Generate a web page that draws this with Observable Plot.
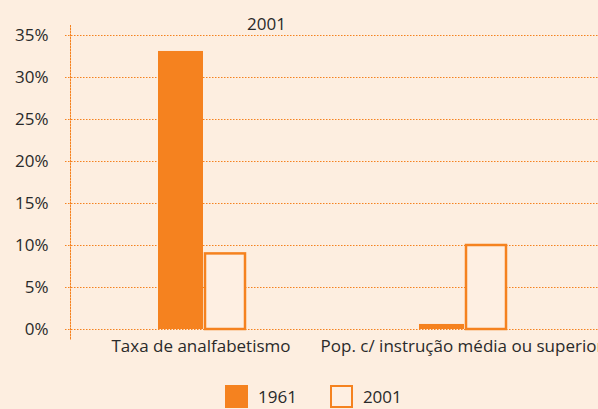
<!DOCTYPE html>
<html>
<head>
<meta charset="utf-8">
<script src="https://cdn.jsdelivr.net/npm/d3@7"></script>
<script src="https://cdn.jsdelivr.net/npm/@observablehq/plot@0.6"></script>
<style>
  html, body { margin: 0; padding: 0; background: #fdeee0; }
  body { width: 598px; height: 409px; overflow: hidden; font-family: "Open Sans", sans-serif; color: #2a2a2a; position: relative; }
  #title { position: absolute; top: 14px; left: 247px; font-size: 17px; line-height: 20px; }
  #chart { padding-top: 24px; }
  #legend { display: flex; align-items: center; margin-top: 16px; padding-left: 225px; font-size: 17px; }
  .sw { width: 23px; height: 23px; box-sizing: border-box; display: inline-block; }
  .item { display: flex; align-items: center; gap: 10px; margin-right: 33px; }
</style>
</head>
<body>
<div id="title">2001</div>
<div id="chart"></div>
<div id="legend"></div>
<script>
const categories = ["Taxa de analfabetismo", "Pop. c/ instrução média ou superior"];
const years = ["1961", "2001"];
const values1961 = [33.1, 0.6];
const values2001 = [9.0, 10.0];
const yTicks = [0, 5, 10, 15, 20, 25, 30, 35];

const orange = "#f5821f";
const hollow = "#feefe2";

const rows1961 = categories.map((c, i) => ({category: c, year: "1961", value: values1961[i]}));
const rows2001 = categories.map((c, i) => ({category: c, year: "2001", value: values2001[i]}));

const chart = Plot.plot({
  width: 598,
  height: 345,
  marginTop: 11,
  marginBottom: 40,
  marginLeft: 70,
  marginRight: 6,
  style: {background: "transparent", fontFamily: "'Open Sans', sans-serif", fontSize: "17px", color: "#2a2a2a"},
  x: {domain: categories, padding: 0, label: null, tickSize: 0, tickPadding: 10},
  y: {domain: [0, 35], ticks: yTicks, tickFormat: d => d + "%", tickSize: 0, tickPadding: 22, label: null},
  marks: [
    Plot.ruleY(yTicks, {stroke: orange, strokeWidth: 1, strokeDasharray: "1.5,1.5", insetLeft: -5, insetRight: -6}),
    Plot.frame({anchor: "left", stroke: orange, strokeDasharray: "1.5,1.5", insetTop: -10, insetBottom: -11}),
    Plot.barY(rows1961, {x: "category", y: "value", fill: orange, insetLeft: 88, insetRight: 128}),
    Plot.barY(rows2001, {x: "category", y: "value", fill: hollow, stroke: orange, strokeWidth: 2.5, insetLeft: 135, insetRight: 86})
  ]
});
document.getElementById("chart").appendChild(chart);

const legend = document.getElementById("legend");
years.forEach((y, i) => {
  const item = document.createElement("div");
  item.className = "item";
  const sw = document.createElement("span");
  sw.className = "sw";
  if (i === 0) sw.style.background = orange;
  else { sw.style.background = hollow; sw.style.border = "2.5px solid " + orange; }
  const t = document.createElement("span");
  t.textContent = y;
  item.appendChild(sw);
  item.appendChild(t);
  legend.appendChild(item);
});
</script>
</body>
</html>
